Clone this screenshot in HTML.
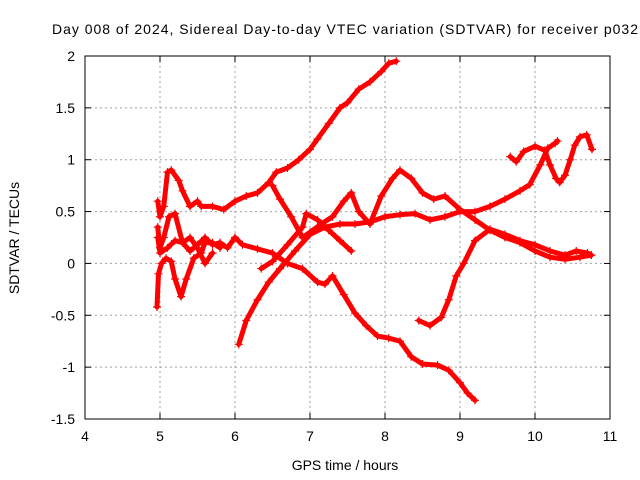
<!DOCTYPE html>
<html><head><meta charset="utf-8"><style>
body{margin:0;background:#fff;}
svg{display:block;font-family:"Liberation Sans",sans-serif;}
</style></head><body>
<svg id="chart" width="640" height="480">
<text x="345" y="34" text-anchor="middle" font-size="14" textLength="586">Day 008 of 2024, Sidereal Day-to-day VTEC variation (SDTVAR) for receiver p032</text>
<text x="345" y="470" text-anchor="middle" font-size="14">GPS time / hours</text>
<text transform="translate(19,238) rotate(-90)" text-anchor="middle" font-size="14">SDTVAR / TECUs</text>
<g id="grid"></g><g id="series"></g><g id="axes"></g>
</svg>
<script>
const xTicks=[4,5,6,7,8,9,10,11];
const yTicks=[-1.5,-1,-0.5,0,0.5,1,1.5,2];
const s1t=[4.97,5.0,5.05,5.1,5.15,5.25,5.3,5.4,5.5,5.55,5.7,5.85,6.0,6.15,6.3,6.45,6.55,6.7,6.85,7.0,7.1,7.25,7.4,7.5,7.65,7.8,7.95,8.05,8.15];
const s1v=[0.6,0.45,0.55,0.88,0.9,0.8,0.7,0.55,0.6,0.55,0.55,0.52,0.6,0.65,0.68,0.78,0.88,0.92,1.0,1.1,1.2,1.35,1.5,1.55,1.68,1.75,1.85,1.93,1.95];
const s2t=[4.97,5.0,5.1,5.2,5.3,5.4,5.5,5.6,5.7,5.8,5.9,6.0,6.1,6.3,6.5,6.7,6.9,7.1,7.2,7.3,7.45,7.6,7.75,7.9,8.05,8.2,8.35,8.5,8.7,8.85,9.0,9.1,9.2];
const s2v=[0.25,0.1,0.15,0.22,0.2,0.12,0.18,0.25,0.18,0.2,0.15,0.25,0.18,0.14,0.1,0.0,-0.05,-0.18,-0.2,-0.12,-0.3,-0.48,-0.6,-0.7,-0.72,-0.75,-0.9,-0.97,-0.98,-1.03,-1.15,-1.25,-1.32];
const s3t=[6.05,6.15,6.3,6.45,6.6,6.8,7.0,7.2,7.4,7.6,7.8,8.0,8.2,8.4,8.6,8.8,9.0,9.2,9.4,9.6,9.8,9.93,10.07,10.17,10.27,10.3];
const s3v=[-0.78,-0.55,-0.35,-0.18,-0.05,0.12,0.28,0.35,0.38,0.38,0.4,0.45,0.47,0.48,0.42,0.45,0.5,0.5,0.55,0.62,0.7,0.76,0.95,1.11,1.16,1.18];
const s4t=[6.5,6.6,6.75,6.9,7.0,7.15,7.3,7.45,7.55,7.65,7.8,7.95,8.1,8.2,8.35,8.5,8.65,8.8,9.0,9.2,9.4,9.6,9.8,10.0,10.2,10.4,10.6,10.75];
const s4v=[0.75,0.62,0.45,0.25,0.3,0.38,0.45,0.6,0.68,0.5,0.38,0.65,0.82,0.9,0.82,0.68,0.62,0.65,0.52,0.42,0.32,0.25,0.2,0.12,0.06,0.04,0.06,0.08];
const s5t=[8.45,8.6,8.75,8.85,8.95,9.05,9.2,9.4,9.6,9.8,10.0,10.2,10.4,10.55,10.7,10.75];
const s5v=[-0.55,-0.6,-0.52,-0.35,-0.12,0.0,0.22,0.33,0.28,0.22,0.18,0.12,0.08,0.12,0.1,0.08];
const s6t=[6.35,6.5,6.7,6.9,6.95,7.1,7.25,7.4,7.55];
const s6v=[-0.05,0.02,0.18,0.35,0.48,0.42,0.32,0.22,0.12];
const s7t=[4.96,4.98,5.02,5.08,5.15,5.2,5.28,5.35,5.45,5.55,5.6,5.7,5.8];
const s7v=[-0.42,-0.1,0.0,0.05,0.02,-0.15,-0.32,-0.15,0.05,0.1,0.2,0.2,0.15];
const s8t=[4.97,5.0,5.05,5.12,5.2,5.3,5.4,5.5,5.6,5.7];
const s8v=[0.35,0.15,0.25,0.45,0.48,0.2,0.25,0.15,0.0,0.1];
const s9t=[9.67,9.75,9.85,10.0,10.13,10.2,10.28,10.33,10.4,10.47,10.53,10.6,10.69,10.76];
const s9v=[1.03,0.98,1.08,1.13,1.09,0.95,0.82,0.78,0.85,1.0,1.14,1.22,1.24,1.1];
const allT=[s1t,s2t,s3t,s4t,s5t,s6t,s7t,s8t,s9t], allV=[s1v,s2v,s3v,s4v,s5v,s6v,s7v,s8v,s9v];
const L=85,R=610,T=56,B=419;
const X=v=>L+(v-4)/7*(R-L), Y=v=>B-(v+1.5)/3.5*(B-T);
const NS="http://www.w3.org/2000/svg";
function mk(tag,attrs,parent){const e=document.createElementNS(NS,tag);for(const k in attrs)e.setAttribute(k,attrs[k]);parent.appendChild(e);return e;}
const grid=document.getElementById('grid'),axes=document.getElementById('axes'),ser=document.getElementById('series');
xTicks.forEach(t=>{
 if(t>4&&t<11){const g=mk('line',{x1:X(t),x2:X(t),y1:T,y2:B,stroke:'#a0a0a0','stroke-dasharray':'2,3'},grid);
 
 }
 mk('line',{x1:X(t),x2:X(t),y1:B,y2:B-6,stroke:'#000'},axes);
 mk('line',{x1:X(t),x2:X(t),y1:T,y2:T+6,stroke:'#000'},axes);
 const tx=mk('text',{x:X(t),y:B+22,'text-anchor':'middle','font-size':14},axes);tx.textContent=t;
 
 
});
yTicks.forEach(t=>{
 if(t>-1.5&&t<2){const g=mk('line',{x1:L,x2:R,y1:Y(t),y2:Y(t),stroke:'#a0a0a0','stroke-dasharray':'2,3'},grid);
 
 }
 mk('line',{x1:L,x2:L+6,y1:Y(t),y2:Y(t),stroke:'#000'},axes);
 mk('line',{x1:R,x2:R-6,y1:Y(t),y2:Y(t),stroke:'#000'},axes);
 const tx=mk('text',{x:L-10,y:Y(t)+5,'text-anchor':'end','font-size':14},axes);tx.textContent=t;
 
 
});
const box=mk('rect',{x:L,y:T,width:R-L,height:B-T,fill:'none',stroke:'#000'},axes);


allT.forEach((ts,i)=>{
 const vs=allV[i];
 const g=mk('g',{},ser);
 
 
 let d='';
 ts.forEach((t,j)=>{d+=(j?'L':'M')+X(t)+','+Y(vs[j]);});
 mk('path',{d:d,fill:'none',stroke:'#f00','stroke-width':5,'stroke-linejoin':'round','stroke-linecap':'round'},g);
 ts.forEach((t,j)=>{
  const x=X(t),y=Y(vs[j]);
  const p=mk('path',{d:`M${x-4},${y}H${x+4}M${x},${y-4}V${y+4}`,stroke:'#f00','stroke-width':1.2},g);
  
  
 });
});
</script>
</body></html>
